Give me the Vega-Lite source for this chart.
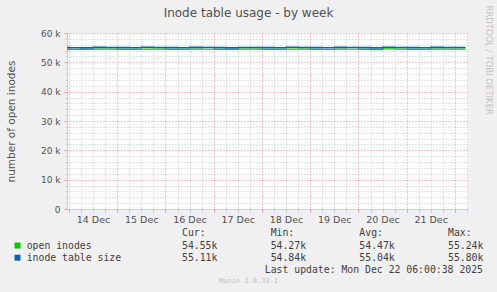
{
  "$schema": "https://vega.github.io/schema/vega-lite/v6.json",
  "width": 401,
  "height": 176,
  "autosize": {"type": "none"},
  "padding": {"left": 67, "top": 33, "right": 29, "bottom": 83},
  "background": "#F0F0F0",
  "title": {"text": "Inode table usage - by week", "font": "DejaVu Sans", "fontSize": 12, "fontWeight": "normal", "color": "#505050", "anchor": "middle", "dx": -19, "offset": 8, "dy": 23},
  "config": {
    "view": {"fill": "white", "stroke": null}
  },
  "datasets": {
    "series": [
      {"t": "2025-12-13T23:00", "series": "open inodes", "value": 54450},
      {"t": "2025-12-14T00:00", "series": "open inodes", "value": 54420},
      {"t": "2025-12-14T06:00", "series": "open inodes", "value": 54380},
      {"t": "2025-12-14T12:00", "series": "open inodes", "value": 54500},
      {"t": "2025-12-14T18:00", "series": "open inodes", "value": 54470},
      {"t": "2025-12-15T00:00", "series": "open inodes", "value": 54440},
      {"t": "2025-12-15T06:00", "series": "open inodes", "value": 54400},
      {"t": "2025-12-15T12:00", "series": "open inodes", "value": 54520},
      {"t": "2025-12-15T18:00", "series": "open inodes", "value": 54480},
      {"t": "2025-12-16T00:00", "series": "open inodes", "value": 54450},
      {"t": "2025-12-16T06:00", "series": "open inodes", "value": 54390},
      {"t": "2025-12-16T12:00", "series": "open inodes", "value": 54510},
      {"t": "2025-12-16T18:00", "series": "open inodes", "value": 54460},
      {"t": "2025-12-17T00:00", "series": "open inodes", "value": 54430},
      {"t": "2025-12-17T06:00", "series": "open inodes", "value": 54370},
      {"t": "2025-12-17T12:00", "series": "open inodes", "value": 54490},
      {"t": "2025-12-17T18:00", "series": "open inodes", "value": 54470},
      {"t": "2025-12-18T00:00", "series": "open inodes", "value": 54440},
      {"t": "2025-12-18T06:00", "series": "open inodes", "value": 54400},
      {"t": "2025-12-18T12:00", "series": "open inodes", "value": 54530},
      {"t": "2025-12-18T18:00", "series": "open inodes", "value": 54480},
      {"t": "2025-12-19T00:00", "series": "open inodes", "value": 54450},
      {"t": "2025-12-19T06:00", "series": "open inodes", "value": 54380},
      {"t": "2025-12-19T12:00", "series": "open inodes", "value": 54500},
      {"t": "2025-12-19T18:00", "series": "open inodes", "value": 54460},
      {"t": "2025-12-20T00:00", "series": "open inodes", "value": 54430},
      {"t": "2025-12-20T06:00", "series": "open inodes", "value": 54360},
      {"t": "2025-12-20T12:00", "series": "open inodes", "value": 54620},
      {"t": "2025-12-20T18:00", "series": "open inodes", "value": 54470},
      {"t": "2025-12-21T00:00", "series": "open inodes", "value": 54440},
      {"t": "2025-12-21T06:00", "series": "open inodes", "value": 54390},
      {"t": "2025-12-21T12:00", "series": "open inodes", "value": 54510},
      {"t": "2025-12-21T18:00", "series": "open inodes", "value": 54480},
      {"t": "2025-12-22T00:00", "series": "open inodes", "value": 54500},
      {"t": "2025-12-22T05:00", "series": "open inodes", "value": 54550},
      {"t": "2025-12-13T23:00", "series": "inode table size", "value": 55020},
      {"t": "2025-12-14T00:00", "series": "inode table size", "value": 54980},
      {"t": "2025-12-14T06:00", "series": "inode table size", "value": 54940},
      {"t": "2025-12-14T12:00", "series": "inode table size", "value": 55100},
      {"t": "2025-12-14T18:00", "series": "inode table size", "value": 55050},
      {"t": "2025-12-15T00:00", "series": "inode table size", "value": 55000},
      {"t": "2025-12-15T06:00", "series": "inode table size", "value": 54950},
      {"t": "2025-12-15T12:00", "series": "inode table size", "value": 55120},
      {"t": "2025-12-15T18:00", "series": "inode table size", "value": 55060},
      {"t": "2025-12-16T00:00", "series": "inode table size", "value": 55020},
      {"t": "2025-12-16T06:00", "series": "inode table size", "value": 54960},
      {"t": "2025-12-16T12:00", "series": "inode table size", "value": 55110},
      {"t": "2025-12-16T18:00", "series": "inode table size", "value": 55040},
      {"t": "2025-12-17T00:00", "series": "inode table size", "value": 55000},
      {"t": "2025-12-17T06:00", "series": "inode table size", "value": 54930},
      {"t": "2025-12-17T12:00", "series": "inode table size", "value": 55080},
      {"t": "2025-12-17T18:00", "series": "inode table size", "value": 55050},
      {"t": "2025-12-18T00:00", "series": "inode table size", "value": 55010},
      {"t": "2025-12-18T06:00", "series": "inode table size", "value": 54960},
      {"t": "2025-12-18T12:00", "series": "inode table size", "value": 55120},
      {"t": "2025-12-18T18:00", "series": "inode table size", "value": 55060},
      {"t": "2025-12-19T00:00", "series": "inode table size", "value": 55020},
      {"t": "2025-12-19T06:00", "series": "inode table size", "value": 54950},
      {"t": "2025-12-19T12:00", "series": "inode table size", "value": 55090},
      {"t": "2025-12-19T18:00", "series": "inode table size", "value": 55040},
      {"t": "2025-12-20T00:00", "series": "inode table size", "value": 55000},
      {"t": "2025-12-20T06:00", "series": "inode table size", "value": 54940},
      {"t": "2025-12-20T12:00", "series": "inode table size", "value": 55150},
      {"t": "2025-12-20T18:00", "series": "inode table size", "value": 55050},
      {"t": "2025-12-21T00:00", "series": "inode table size", "value": 55010},
      {"t": "2025-12-21T06:00", "series": "inode table size", "value": 54960},
      {"t": "2025-12-21T12:00", "series": "inode table size", "value": 55100},
      {"t": "2025-12-21T18:00", "series": "inode table size", "value": 55060},
      {"t": "2025-12-22T00:00", "series": "inode table size", "value": 55070},
      {"t": "2025-12-22T05:00", "series": "inode table size", "value": 55110}
    ],
    "legend": [
      {"series": "open inodes"},
      {"series": "inode table size"}
    ],
    "stats": [
      {"row": "head", "col": "Cur", "text": "Cur:"},
      {"row": "head", "col": "Min", "text": "Min:"},
      {"row": "head", "col": "Avg", "text": "Avg:"},
      {"row": "head", "col": "Max", "text": "Max:"},
      {"row": "open inodes", "col": "Cur", "text": "54.55k"},
      {"row": "open inodes", "col": "Min", "text": "54.27k"},
      {"row": "open inodes", "col": "Avg", "text": "54.47k"},
      {"row": "open inodes", "col": "Max", "text": "55.24k"},
      {"row": "inode table size", "col": "Cur", "text": "55.11k"},
      {"row": "inode table size", "col": "Min", "text": "54.84k"},
      {"row": "inode table size", "col": "Avg", "text": "55.04k"},
      {"row": "inode table size", "col": "Max", "text": "55.80k"}
    ],
    "footer": [
      {"line": "update", "text": "Last update: Mon Dec 22 06:00:38 2025"},
      {"line": "version", "text": "Munin 2.0.33-1"}
    ]
  },
  "layer": [
    {
      "data": {"name": "series"},
      "transform": [{"filter": "datum.series === 'open inodes'"}],
      "mark": {"type": "line", "strokeWidth": 1.2, "interpolate": "step-after"},
      "encoding": {
        "x": {
          "field": "t", "type": "temporal",
          "scale": {"domain": [{"year": 2025, "month": 12, "date": 13, "hours": 23}, {"year": 2025, "month": 12, "date": 22, "hours": 6, "minutes": 30}]},
          "axis": {
            "orient": "bottom",
            "title": null,
            "values": [
              {"year": 2025, "month": 12, "date": 14, "hours": 6}, {"year": 2025, "month": 12, "date": 14, "hours": 12}, {"year": 2025, "month": 12, "date": 14, "hours": 18},
              {"year": 2025, "month": 12, "date": 15, "hours": 6}, {"year": 2025, "month": 12, "date": 15, "hours": 12}, {"year": 2025, "month": 12, "date": 15, "hours": 18},
              {"year": 2025, "month": 12, "date": 16, "hours": 6}, {"year": 2025, "month": 12, "date": 16, "hours": 12}, {"year": 2025, "month": 12, "date": 16, "hours": 18},
              {"year": 2025, "month": 12, "date": 17, "hours": 6}, {"year": 2025, "month": 12, "date": 17, "hours": 12}, {"year": 2025, "month": 12, "date": 17, "hours": 18},
              {"year": 2025, "month": 12, "date": 18, "hours": 6}, {"year": 2025, "month": 12, "date": 18, "hours": 12}, {"year": 2025, "month": 12, "date": 18, "hours": 18},
              {"year": 2025, "month": 12, "date": 19, "hours": 6}, {"year": 2025, "month": 12, "date": 19, "hours": 12}, {"year": 2025, "month": 12, "date": 19, "hours": 18},
              {"year": 2025, "month": 12, "date": 20, "hours": 6}, {"year": 2025, "month": 12, "date": 20, "hours": 12}, {"year": 2025, "month": 12, "date": 20, "hours": 18},
              {"year": 2025, "month": 12, "date": 21, "hours": 6}, {"year": 2025, "month": 12, "date": 21, "hours": 12}, {"year": 2025, "month": 12, "date": 21, "hours": 18},
              {"year": 2025, "month": 12, "date": 22, "hours": 6}
            ],
            "grid": true,
            "gridDash": [1, 2],
            "gridColor": "#C8C8C8",
            "tickColor": "#C8C8C8",
            "tickSize": 3,
            "domainColor": "#C8CCF4",
            "labels": false
          }
        },
        "y": {
          "field": "value", "type": "quantitative",
          "scale": {"domain": [0, 60000], "nice": false},
          "axis": {
            "orient": "left",
            "title": null,
            "values": [2000, 4000, 6000, 8000, 12000, 14000, 16000, 18000, 22000, 24000, 26000, 28000, 32000, 34000, 36000, 38000, 42000, 44000, 46000, 48000, 52000, 54000, 56000, 58000],
            "grid": true,
            "gridDash": [1, 2],
            "gridColor": "#C8C8C8",
            "tickColor": "#C8C8C8",
            "tickSize": 2,
            "domainColor": "#C8CCF4",
            "labels": false
          }
        },
        "color": {
          "field": "series", "type": "nominal",
          "scale": {"domain": ["open inodes", "inode table size"], "range": ["#00CC00", "#0066B3"]},
          "legend": null
        }
      }
    },
    {
      "data": {"name": "series"},
      "transform": [{"filter": "datum.series === 'inode table size'"}],
      "mark": {"type": "line", "strokeWidth": 1.6, "interpolate": "step-after"},
      "encoding": {
        "x": {
          "field": "t", "type": "temporal",
          "scale": {"domain": [{"year": 2025, "month": 12, "date": 13, "hours": 23}, {"year": 2025, "month": 12, "date": 22, "hours": 6, "minutes": 30}]},
          "axis": {
            "orient": "bottom",
            "title": null,
            "values": [
              {"year": 2025, "month": 12, "date": 14}, {"year": 2025, "month": 12, "date": 15}, {"year": 2025, "month": 12, "date": 16},
              {"year": 2025, "month": 12, "date": 17}, {"year": 2025, "month": 12, "date": 18}, {"year": 2025, "month": 12, "date": 19},
              {"year": 2025, "month": 12, "date": 20}, {"year": 2025, "month": 12, "date": 21}, {"year": 2025, "month": 12, "date": 22}
            ],
            "grid": true,
            "gridDash": [1, 2],
            "gridColor": "#F09090",
            "tickColor": "#F09090",
            "tickSize": 3,
            "domainColor": "#C8CCF4",
            "labelExpr": "date(datum.value) === 22 ? '' : timeFormat(datum.value, '%d %b')",
            "labelOffset": 24,
            "labelFont": "DejaVu Sans",
            "labelFontSize": 9.5,
            "labelColor": "#505050",
            "labelPadding": 2,
            "labelOverlap": false,
            "labelFlush": false,
            "labelBound": false
          }
        },
        "y": {
          "field": "value", "type": "quantitative",
          "scale": {"domain": [0, 60000], "nice": false},
          "axis": {
            "orient": "left",
            "title": "number of open inodes",
            "titleFont": "DejaVu Sans",
            "titleFontSize": 10.5,
            "titleFontWeight": "normal",
            "titleColor": "#505050",
            "titlePadding": 24,
            "values": [0, 10000, 20000, 30000, 40000, 50000, 60000],
            "grid": true,
            "gridDash": [1, 2],
            "gridColor": "#F09090",
            "tickColor": "#F09090",
            "tickSize": 3,
            "domainColor": "#C8CCF4",
            "labelExpr": "datum.value === 0 ? '0' : (datum.value / 1000) + ' k'",
            "labelFont": "DejaVu Sans",
            "labelFontSize": 9,
            "labelColor": "#505050",
            "labelPadding": 4,
            "labelFlush": false,
            "labelOverlap": false
          }
        },
        "color": {"field": "series", "type": "nominal", "legend": null}
      }
    },
    {
      "data": {"name": "legend"},
      "mark": {"type": "square", "size": 36, "filled": true, "opacity": 1},
      "encoding": {
        "x": {"datum": "swatch", "type": "nominal", "scale": {"type": "point", "domain": ["swatch", "name"], "range": [-49.5, -40.3], "padding": 0}, "axis": null},
        "y": {"field": "series", "type": "nominal", "scale": {"type": "point", "domain": ["head", "open inodes", "inode table size"], "range": [200.3, 224.7], "padding": 0}, "axis": null},
        "color": {"field": "series", "type": "nominal", "legend": null}
      }
    },
    {
      "data": {"name": "legend"},
      "mark": {"type": "text", "align": "left", "baseline": "middle", "font": "DejaVu Sans Mono", "fontSize": 9.8, "color": "#404040"},
      "encoding": {
        "x": {"datum": "name", "type": "nominal", "scale": {"type": "point", "domain": ["swatch", "name"], "range": [-49.5, -40.3], "padding": 0}, "axis": null},
        "y": {"field": "series", "type": "nominal", "scale": {"type": "point", "domain": ["head", "open inodes", "inode table size"], "range": [200.3, 224.7], "padding": 0}, "axis": null},
        "text": {"field": "series"}
      }
    },
    {
      "data": {"name": "stats"},
      "mark": {"type": "text", "align": "left", "baseline": "middle", "font": "DejaVu Sans Mono", "fontSize": 9.8, "color": "#404040"},
      "encoding": {
        "x": {"field": "col", "type": "nominal", "scale": {"type": "point", "domain": ["Cur", "Min", "Avg", "Max"], "range": [115, 381], "padding": 0}, "axis": null},
        "y": {
          "field": "row", "type": "nominal",
          "scale": {"type": "point", "domain": ["head", "open inodes", "inode table size"], "range": [200.3, 224.7], "padding": 0},
          "axis": {
            "orient": "right",
            "title": "RRDTOOL / TOBI OETIKER",
            "titleFont": "DejaVu Sans",
            "titleFontSize": 8.5,
            "titleFontWeight": "normal",
            "titleColor": "#C4C4C4",
            "titleAngle": 90,
            "titleAlign": "left",
            "titleBaseline": "middle",
            "titleX": 20,
            "titleY": -28,
            "labels": false,
            "ticks": false,
            "domain": false,
            "grid": false
          }
        },
        "text": {"field": "text"}
      }
    },
    {
      "data": {"name": "footer"},
      "transform": [{"filter": "datum.line === 'update'"}],
      "mark": {"type": "text", "align": "right", "baseline": "middle", "font": "DejaVu Sans Mono", "fontSize": 9.8, "color": "#404040"},
      "encoding": {
        "x": {"field": "line", "type": "nominal", "scale": {"type": "point", "domain": ["version", "update"], "range": [181.5, 416], "padding": 0}, "axis": null},
        "y": {"field": "line", "type": "nominal", "scale": {"type": "point", "domain": ["update", "version"], "range": [236.7, 248], "padding": 0}, "axis": null},
        "text": {"field": "text"}
      }
    },
    {
      "data": {"name": "footer"},
      "transform": [{"filter": "datum.line === 'version'"}],
      "mark": {"type": "text", "align": "center", "baseline": "middle", "font": "DejaVu Sans Mono", "fontSize": 7, "color": "#C0C0C0"},
      "encoding": {
        "x": {"field": "line", "type": "nominal", "scale": {"type": "point", "domain": ["version", "update"], "range": [181.5, 416], "padding": 0}, "axis": null},
        "y": {"field": "line", "type": "nominal", "scale": {"type": "point", "domain": ["update", "version"], "range": [236.7, 248], "padding": 0}, "axis": null},
        "text": {"field": "text"}
      }
    }
  ],
  "resolve": {"scale": {"x": "independent", "y": "independent"}}
}
